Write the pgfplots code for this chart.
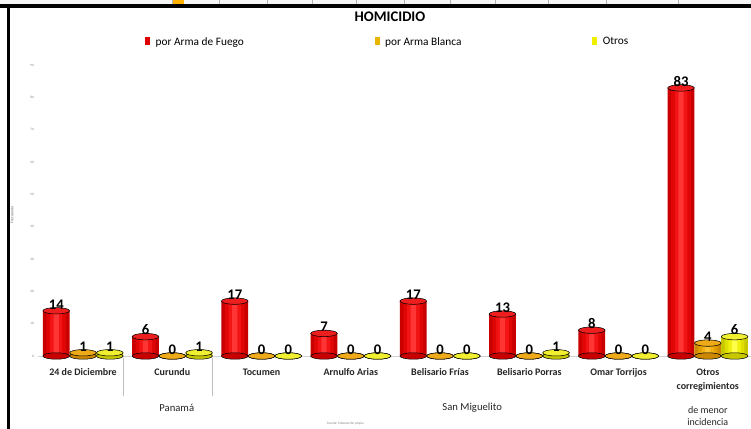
\documentclass[border=0pt]{standalone}
\usepackage{pgfplots}
\pgfplotsset{compat=1.18}
\usepackage{pgfplotstable}
\usepackage{fontspec}
\setmainfont{Carlito}

\definecolor{redA}{HTML}{C80000}
\definecolor{redB}{HTML}{E00606}
\definecolor{redC}{HTML}{F21414}
\definecolor{redD}{HTML}{FF3434}
\definecolor{redTop}{HTML}{EE1E1E}
\definecolor{orA}{HTML}{CC8800}
\definecolor{orB}{HTML}{E29E00}
\definecolor{orC}{HTML}{F0AE10}
\definecolor{orD}{HTML}{FCC232}
\definecolor{orTop}{HTML}{EEAA18}
\definecolor{yeA}{HTML}{C8C800}
\definecolor{yeB}{HTML}{E0E000}
\definecolor{yeC}{HTML}{F0F010}
\definecolor{yeD}{HTML}{FFFF4A}
\definecolor{yeTop}{HTML}{F0F030}
\definecolor{legRed}{HTML}{E00000}
\definecolor{legOr}{HTML}{E8B400}
\definecolor{legYe}{HTML}{F0F000}

% homicidios por corregimiento
\pgfplotstableread{
idx fuego blanca otros
0 14 1 1
1 6 0 1
2 17 0 0
3 7 0 0
4 17 0 0
5 13 0 1
6 8 0 0
7 83 4 6
}\homicidio

\pgfplotsset{
  cyllayer/.style 2 args={ybar, bar width=#1, bar shift=0pt, draw=none,
    fill=#2, forget plot, y filter/.expression={y>0 ? y : nan}},
  cyldisc/.style={only marks, mark=*, mark size=10pt,
    mark options={yscale=0.24, draw=none, fill=#1}, forget plot},
}

% one series of cylinders: offset, column, 4 body colours, top colour
\newcommand{\cylinders}[7]{%
  \addplot[cyldisc=#3] table[x expr=\thisrow{idx}#1, y expr=0] {\homicidio};
  \addplot[cyllayer={0.3}{#3}] table[x expr=\thisrow{idx}#1, y=#2] {\homicidio};
  \addplot[cyllayer={0.22}{#4}] table[x expr=\thisrow{idx}#1, y=#2] {\homicidio};
  \addplot[cyllayer={0.14}{#5}] table[x expr=\thisrow{idx}#1, y=#2] {\homicidio};
  \addplot[cyllayer={0.06}{#6}] table[x expr=\thisrow{idx}#1, y=#2] {\homicidio};
  \addplot[cyldisc=#7, nodes near coords] table[x expr=\thisrow{idx}#1, y=#2] {\homicidio};
}

\begin{document}
\begin{tikzpicture}
\useasboundingbox (0,0) rectangle (563.25pt,321.75pt);
\fill[white] (0,0) rectangle (563.25pt,321.75pt);

% strip of the table above the chart
\fill[gray!8] (0,318.4pt) rectangle (563.25pt,321.75pt);
\fill[orange!60!yellow] (129pt,319pt) rectangle (138pt,321.75pt);
\foreach \xx in {172,219,267,312,356,404,450,495,548,606,678}
  \draw[gray!60, line width=0.4pt] (\xx*0.75pt,318.4pt) -- (\xx*0.75pt,321.75pt);
\fill[black] (0,315.75pt) rectangle (563.25pt,318.4pt);
\fill[black] (5.6pt,0) rectangle (7.4pt,318pt);

\node[font=\bfseries\fontsize{11}{12}\selectfont] at (292.5pt,309.5pt) {HOMICIDIO};
\node[rotate=90, font=\fontsize{3}{3}\selectfont, gray!80!black] at (9pt,160.5pt) {Frecuencia};

\begin{axis}[
  at={(28.8pt,54.75pt)}, anchor=south west,
  scale only axis, width=534.45pt, height=218pt,
  xmin=-0.5, xmax=7.484, ymin=0, ymax=90,
  clip=false,
  axis line style={draw=none},
  tick style={draw=none},
  /pgf/number format/assume math mode=true,
  xtick={0,...,7},
  xticklabels={24 de Diciembre, Curundu, Tocumen, Arnulfo Arias,
    Belisario Frías, Belisario Porras, Omar Torrijos, {Otros\\corregimientos}},
  xticklabel style={align=center, anchor=north, yshift=-6pt,
    font=\bfseries\fontsize{7.5}{10.5}\selectfont, black!85},
  ytick={0,10,...,90},
  yticklabel style={font=\fontsize{2.5}{3}\selectfont, gray},
  legend image code/.code={\fill[#1, draw=none] (0pt,-2pt) rectangle (4pt,3.5pt);},
  legend style={at={(0.4906,1.08)}, anchor=center, draw=none, fill=none,
    font=\fontsize{8.5}{10}\selectfont,
    /tikz/every odd column/.append style={column sep=2pt},
    /tikz/every even column/.append style={column sep=96pt}},
  legend columns=3,
  nodes near coords style={font=\bfseries\fontsize{11}{11}\selectfont,
    black, anchor=south, inner sep=1pt},
]
\addlegendimage{fill=legRed}
\addlegendentry{por Arma de Fuego}
\addlegendimage{fill=legOr}
\addlegendentry{por Arma Blanca}
\addlegendimage{fill=legYe}
\addlegendentry{Otros}

\draw[gray!35] (axis cs:-0.5,0) -- (axis cs:7.484,0);

\cylinders{-0.3}{fuego}{redA}{redB}{redC}{redD}{redTop}
\cylinders{+0}{blanca}{orA}{orB}{orC}{orD}{orTop}
\cylinders{+0.3}{otros}{yeA}{yeB}{yeC}{yeD}{yeTop}

% group separators and group names
\draw[gray!50] (axis cs:0.45,-0.6) -- (axis cs:0.45,-12.4);
\draw[gray!50] (axis cs:1.45,-0.6) -- (axis cs:1.45,-12.4);
\node[font=\fontsize{8}{9}\selectfont, black!85] at (axis cs:1.05,-16.1) {Panamá};
\node[font=\fontsize{8}{9}\selectfont, black!85] at (axis cs:4.36,-16.1) {San Miguelito};
\node[font=\fontsize{7.5}{9.5}\selectfont, black!85, align=center] at (axis cs:7.0,-18.6) {de menor\\incidencia};
\node[font=\fontsize{2.5}{3}\selectfont, gray] at (axis cs:2.94,-21) {Fuente: Elaboración propia};
\end{axis}
\end{tikzpicture}
\end{document}
